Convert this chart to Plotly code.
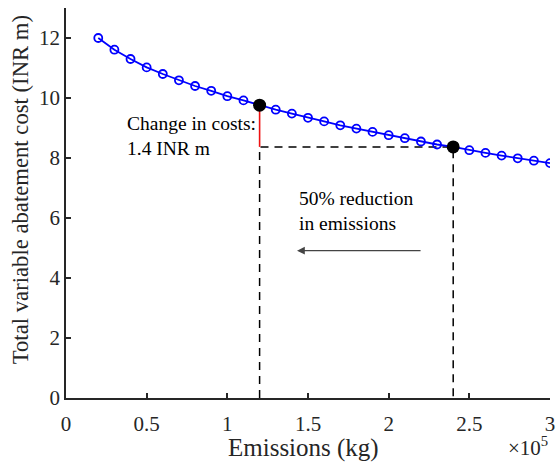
import plotly.graph_objects as go

# Data
emissions = [20000, 30000, 40000, 50000, 60000, 70000, 80000, 90000, 100000, 110000,
             120000, 130000, 140000, 150000, 160000, 170000, 180000, 190000, 200000,
             210000, 220000, 230000, 240000, 250000, 260000, 270000, 280000, 290000, 300000]
cost = [12.00, 11.61, 11.30, 11.02, 10.80, 10.59, 10.40, 10.24, 10.06, 9.92,
        9.76, 9.61, 9.48, 9.34, 9.22, 9.09, 8.98, 8.87, 8.76,
        8.66, 8.55, 8.45, 8.37, 8.26, 8.17, 8.08, 7.99, 7.91, 7.83]

x_high = 240000
x_low = 120000
y_high = cost[emissions.index(x_low)]
y_low = cost[emissions.index(x_high)]

x_tickvals = [0, 50000, 100000, 150000, 200000, 250000, 300000]
x_ticktext = ["0", "0.5", "1", "1.5", "2", "2.5", "3"]
y_tickvals = [0, 2, 4, 6, 8, 10, 12]

FONT = "Liberation Serif"
AX = "#262626"

fig = go.Figure()

# dashed guide lines
fig.add_trace(go.Scatter(x=[x_low, x_low, x_high, x_high], y=[0, y_low, y_low, 0],
                         mode="lines", line=dict(color="black", width=1.5, dash="8px,6px"),
                         hoverinfo="skip", showlegend=False))
# red change line
fig.add_trace(go.Scatter(x=[x_low, x_low], y=[y_high, y_low], mode="lines",
                         line=dict(color="#ee1111", width=1.6), showlegend=False))
# main curve
fig.add_trace(go.Scatter(x=emissions, y=cost, mode="lines+markers",
                         line=dict(color="#0000ff", width=1.8),
                         marker=dict(symbol="circle-open", size=8, color="#0000ff",
                                     line=dict(width=1.8, color="#0000ff")),
                         showlegend=False))
# highlight points
fig.add_trace(go.Scatter(x=[x_low, x_high], y=[y_high, y_low], mode="markers",
                         marker=dict(size=13, color="black"), showlegend=False))

fig.add_annotation(x=36500, y=8.73, xref="x", yref="y", xanchor="left", yanchor="middle",
                   text="Change in costs:<br>1.4 INR m", showarrow=False, align="left",
                   font=dict(family=FONT, size=19.5, color="black"))
fig.add_annotation(x=143000, y=6.23, xref="x", yref="y", xanchor="left", yanchor="middle",
                   text="50% reduction<br>in emissions", showarrow=False, align="left",
                   font=dict(family=FONT, size=19.5, color="black"))
fig.add_annotation(x=143200, y=4.91, ax=220700, ay=4.91, xref="x", yref="y", axref="x", ayref="y",
                   text="", showarrow=True, arrowhead=2, arrowsize=1.2, arrowwidth=1.3,
                   arrowcolor="#444444")

# axis titles
fig.add_annotation(x=0.49, y=-0.127, xref="paper", yref="paper", xanchor="center", yanchor="middle",
                   text="Emissions (kg)", showarrow=False,
                   font=dict(family=FONT, size=25, color=AX))
fig.add_annotation(x=-0.094, y=0.534, xref="paper", yref="paper", xanchor="center", yanchor="middle",
                   text="Total variable abatement cost (INR m)", showarrow=False, textangle=-90,
                   font=dict(family=FONT, size=22.7, color=AX))
fig.add_annotation(x=1.0, y=-0.125, xref="paper", yref="paper", xanchor="right", yanchor="middle",
                   text="×10<sup>5</sup>", showarrow=False,
                   font=dict(family=FONT, size=21, color=AX))

fig.update_layout(
    width=556, height=462,
    margin=dict(l=66, r=6, t=8, b=64, autoexpand=False),
    paper_bgcolor="white", plot_bgcolor="white",
    font=dict(family=FONT, size=21, color=AX),
    xaxis=dict(range=[0, 300000], tickvals=x_tickvals, ticktext=x_ticktext,
               ticks="inside", ticklen=5, tickwidth=1.5, tickcolor=AX, automargin=False,
               ticklabelstandoff=6,
               showline=True, linecolor=AX, linewidth=1.5, showgrid=False, zeroline=False,
               tickfont=dict(family=FONT, size=21, color=AX)),
    yaxis=dict(range=[0, 13], tickvals=y_tickvals, automargin=False,
               ticks="inside", ticklen=5, tickwidth=1.5, tickcolor=AX,
               showline=True, linecolor=AX, linewidth=1.5, showgrid=False, zeroline=False,
               tickfont=dict(family=FONT, size=21, color=AX)),
)

fig.write_html("out.html")
